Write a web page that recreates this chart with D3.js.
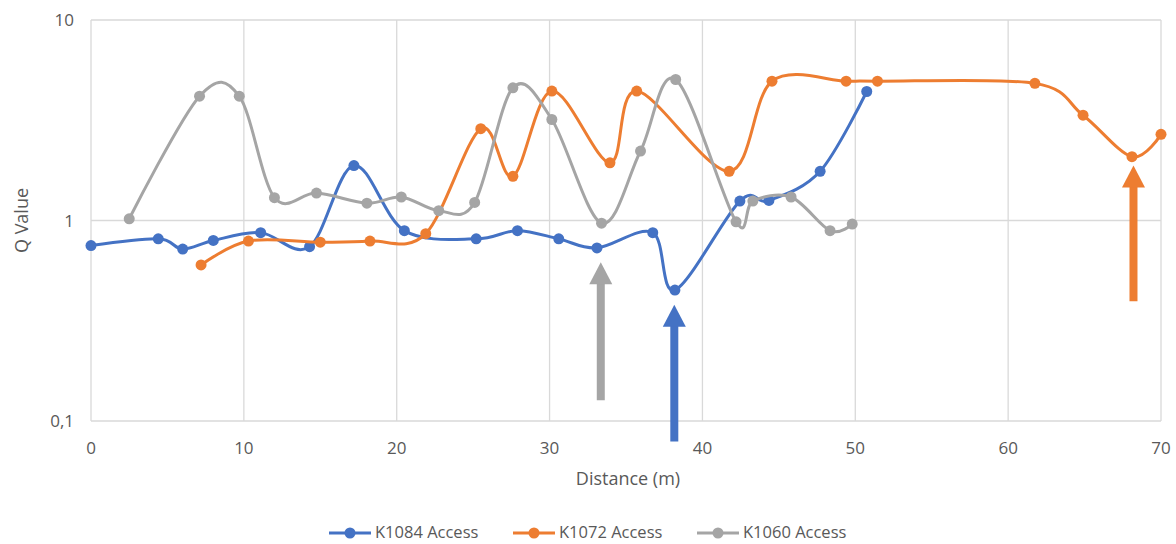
<!DOCTYPE html>
<html>
<head>
<meta charset="utf-8">
<script src="https://cdn.jsdelivr.net/npm/d3@7"></script>
<style>
  body { margin: 0; background: #fff; }
  text { font-family: "Open Sans", "Noto Sans", sans-serif; fill: #595959; }
</style>
</head>
<body>
<div id="chart"></div>
<script>
// series: [distance, Q]
var k1084 = [[0, 0.75], [4.4, 0.81], [6.0, 0.72], [8.0, 0.795], [11.1, 0.87], [14.3, 0.74], [17.2, 1.88],
  [20.5, 0.89], [25.2, 0.81], [27.9, 0.89], [30.6, 0.81], [33.1, 0.73], [36.75, 0.87], [38.2, 0.45],
  [42.45, 1.25], [44.35, 1.26], [47.7, 1.76], [50.75, 4.4]];
var k1072 = [[7.2, 0.6], [10.3, 0.79], [15.0, 0.78], [18.25, 0.79], [21.9, 0.86], [25.5, 2.87], [27.6, 1.66],
  [30.15, 4.42], [33.95, 1.94], [35.7, 4.42], [41.75, 1.76], [44.55, 4.95], [49.4, 4.95], [51.45, 4.95],
  [61.75, 4.83], [64.9, 3.35], [68.1, 2.08], [70, 2.69]];
var k1060 = [[2.5, 1.02], [7.1, 4.17], [9.7, 4.17], [12.0, 1.3], [14.75, 1.37], [18.05, 1.22], [20.3, 1.31],
  [22.75, 1.12], [25.1, 1.23], [27.6, 4.59], [30.15, 3.19], [33.4, 0.97], [35.95, 2.22], [38.25, 5.05],
  [42.2, 0.985], [43.3, 1.25], [45.8, 1.31], [48.35, 0.89], [49.8, 0.96]];

var seriesNames = ["K1084 Access", "K1072 Access", "K1060 Access"];
var seriesColors = ["#4472C4", "#ED7D31", "#A5A5A5"];
var seriesData = [k1084, k1072, k1060];

var xTicks = [0, 10, 20, 30, 40, 50, 60, 70];
var yTicks = [0.1, 1, 10];
var yTickLabels = ["0,1", "1", "10"];

// annotation arrows: [x, tip value, tail value], colour index
var arrows = [[33.35, 0.62, 0.127, 2], [38.16, 0.38, 0.079, 0], [68.2, 1.88, 0.396, 1]];

var width = 1176, height = 544;
var margin = { top: 20, right: 15, bottom: 123, left: 91 };

var svg = d3.select("#chart").append("svg")
  .attr("width", width)
  .attr("height", height);

var x = d3.scaleLinear().domain([0, 70]).range([margin.left, width - margin.right]);
var y = d3.scaleLog().domain([0.1, 10]).range([height - margin.bottom, margin.top]);

// grid
svg.append("g").selectAll("line")
  .data(xTicks)
  .enter().append("line")
  .attr("x1", d => x(d)).attr("x2", d => x(d))
  .attr("y1", y(10)).attr("y2", y(0.1))
  .style("stroke", "#d9d9d9").style("stroke-width", 1.3);

svg.append("g").selectAll("line")
  .data(yTicks)
  .enter().append("line")
  .attr("x1", x(0)).attr("x2", x(70))
  .attr("y1", d => y(d)).attr("y2", d => y(d))
  .style("stroke", "#d9d9d9").style("stroke-width", 1.3);

// axes labels
svg.append("g").selectAll("text")
  .data(xTicks)
  .enter().append("text")
  .attr("x", d => x(d))
  .attr("y", y(0.1) + 33)
  .style("text-anchor", "middle")
  .style("font-size", "17px")
  .text(d => d);

svg.append("g").selectAll("text")
  .data(yTicks)
  .enter().append("text")
  .attr("x", margin.left - 17)
  .attr("y", d => y(d) + 6)
  .style("text-anchor", "end")
  .style("font-size", "17px")
  .text((d, i) => yTickLabels[i]);

svg.append("text")
  .attr("x", 628)
  .attr("y", 485)
  .style("text-anchor", "middle")
  .style("font-size", "18px")
  .text("Distance (m)");

svg.append("text")
  .attr("transform", "translate(28," + y(1) + ") rotate(-90)")
  .style("text-anchor", "middle")
  .style("font-size", "18px")
  .text("Q Value");

// lines
var line = d3.line()
  .x(d => x(d[0]))
  .y(d => y(d[1]))
  .curve(d3.curveCardinal.tension(0));

seriesData.forEach(function (data, i) {
  var g = svg.append("g");
  g.append("path")
    .datum(data)
    .attr("d", line)
    .style("fill", "none")
    .style("stroke", seriesColors[i])
    .style("stroke-width", 3);
  g.selectAll("circle")
    .data(data)
    .enter().append("circle")
    .attr("cx", d => x(d[0]))
    .attr("cy", d => y(d[1]))
    .attr("r", 5.5)
    .style("fill", seriesColors[i]);
});

// arrows
arrows.forEach(function (a) {
  var ax = x(a[0]), tip = y(a[1]), tail = y(a[2]);
  var col = seriesColors[a[3]];
  svg.append("line")
    .attr("x1", ax).attr("x2", ax)
    .attr("y1", tip + 20).attr("y2", tail)
    .style("stroke", col).style("stroke-width", 8);
  svg.append("path")
    .attr("d", "M" + ax + "," + tip + "L" + (ax + 11.5) + "," + (tip + 22) + "L" + (ax - 11.5) + "," + (tip + 22) + "Z")
    .style("fill", col);
});

// legend
var legendX = [329, 513, 697];
var legend = svg.append("g").selectAll("g")
  .data(seriesNames)
  .enter().append("g")
  .attr("transform", (d, i) => "translate(" + legendX[i] + ",533)");

legend.append("line")
  .attr("x1", 0).attr("x2", 42)
  .style("stroke", (d, i) => seriesColors[i])
  .style("stroke-width", 3);
legend.append("circle")
  .attr("cx", 21).attr("r", 5.5)
  .style("fill", (d, i) => seriesColors[i]);
legend.append("text")
  .attr("x", 46).attr("y", 5)
  .style("font-size", "16.5px")
  .text(d => d);
</script>
</body>
</html>
